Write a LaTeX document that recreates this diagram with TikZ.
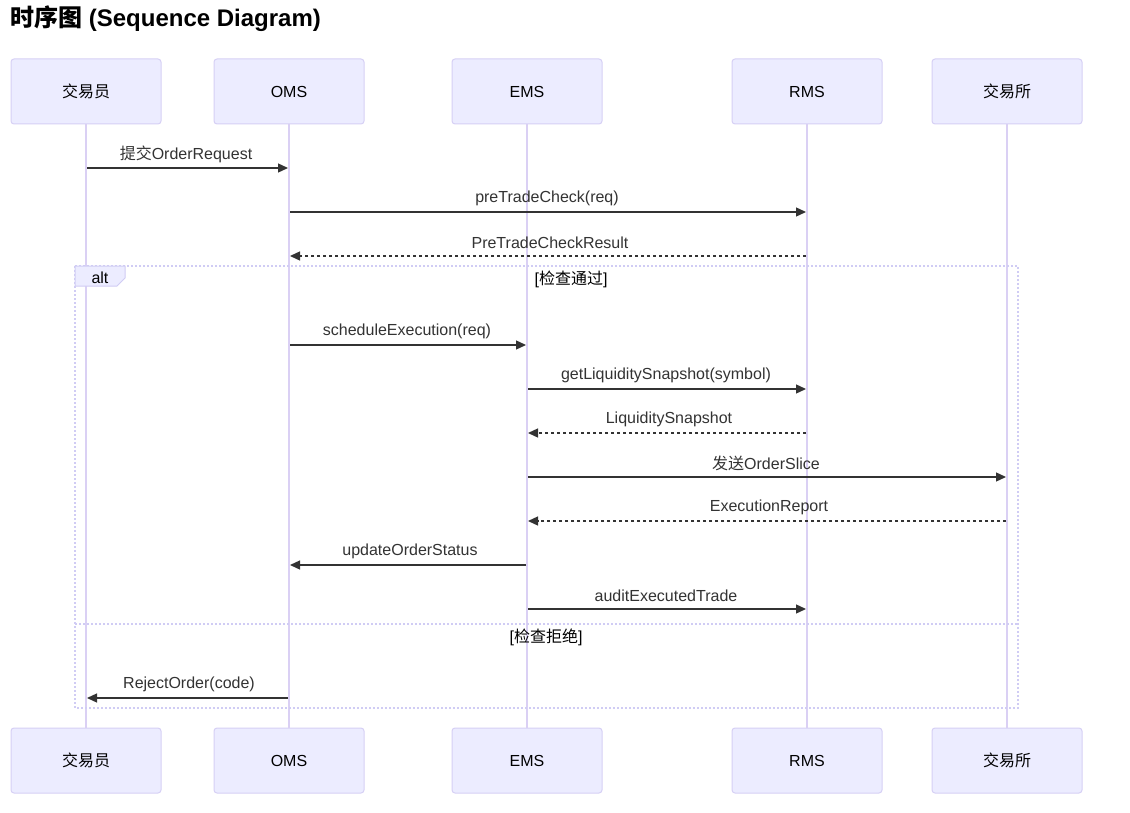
\documentclass[tikz,border=0pt]{standalone}
\usepackage{fontspec}
\setmainfont{Liberation Sans}
\newfontfamily\cjk{Noto Sans CJK SC}
\usetikzlibrary{arrows.meta}
\definecolor{actfill}{RGB}{236,236,255}
\definecolor{actline}{RGB}{214,208,245}
\definecolor{lifeline}{RGB}{218,208,244}
\definecolor{altline}{RGB}{208,204,244}
\definecolor{msg}{RGB}{51,51,51}
\tikzset{
  actor/.style={draw=actline, fill=actfill, line width=1pt, rounded corners=3pt,
    minimum width=150pt, minimum height=65pt, inner sep=0pt,
    font=\fontsize{16}{19}\selectfont, text=black},
  life/.style={draw=lifeline, line width=1.6pt},
  msgline/.style={draw=msg, line width=1.3pt, -{Triangle[length=10pt,width=9pt]},
    shorten >=1pt, shorten <=1pt},
  reply/.style={msgline, dash pattern=on 3pt off 3pt},
  msgtext/.style={font=\fontsize{16}{19}\selectfont, text=msg, inner sep=0pt},
  alttext/.style={font=\fontsize{16}{19}\selectfont, text=black, inner sep=0pt},
  altbox/.style={draw=altline, line width=1.5pt, dash pattern=on 2pt off 2pt},
}
\begin{document}
\begin{tikzpicture}[x=1pt, y=-1pt]
\useasboundingbox (0,0) rectangle (1130,813);
\fill[white] (0,0) rectangle (1130,813);
% title
\node[anchor=base west, inner sep=0pt, font=\fontsize{24}{28}\selectfont\bfseries] (title) at (10,26.5) {{\cjk 时序图} (Sequence Diagram)};
% actors top
\node[actor] (t1) at (86,91.5) {\cjk 交易员};
\node[actor] (o1) at (289,91.5) {OMS};
\node[actor] (e1) at (527,91.5) {EMS};
\node[actor] (r1) at (807,91.5) {RMS};
\node[actor] (x1) at (1007,91.5) {\cjk 交易所};
% actors bottom
\node[actor] (t2) at (86,760.5) {\cjk 交易员};
\node[actor] (o2) at (289,760.5) {OMS};
\node[actor] (e2) at (527,760.5) {EMS};
\node[actor] (r2) at (807,760.5) {RMS};
\node[actor] (x2) at (1007,760.5) {\cjk 交易所};
% lifelines
\draw[life] (t1) -- (t2);
\draw[life] (o1) -- (o2);
\draw[life] (e1) -- (e2);
\draw[life] (r1) -- (r2);
\draw[life] (x1) -- (x2);
% alt box
\draw[altbox] (75,266) rectangle (1018,708);
\draw[altbox] (75,624) -- (1018,624);
\draw[draw=altline, line width=1pt, fill=actfill] (75,266) -- (125,266) -- (125,278) -- (117,286) -- (75,286) -- cycle;
\node[alttext] (altlbl) at (100,278) {alt};
\node[alttext] (cond1) at (571,279) {[{\cjk 检查通过}]};
\node[alttext] (cond2) at (546,637) {[{\cjk 检查拒绝}]};
% message coordinates
\coordinate (m1a) at (86,168);  \coordinate (m1b) at (289,168);
\coordinate (m2a) at (289,212); \coordinate (m2b) at (807,212);
\coordinate (m3a) at (807,256); \coordinate (m3b) at (289,256);
\coordinate (m4a) at (289,345); \coordinate (m4b) at (527,345);
\coordinate (m5a) at (527,389); \coordinate (m5b) at (807,389);
\coordinate (m6a) at (807,433); \coordinate (m6b) at (527,433);
\coordinate (m7a) at (527,477); \coordinate (m7b) at (1007,477);
\coordinate (m8a) at (1007,521); \coordinate (m8b) at (527,521);
\coordinate (m9a) at (527,565); \coordinate (m9b) at (289,565);
\coordinate (m10a) at (527,609); \coordinate (m10b) at (807,609);
\coordinate (m11a) at (289,698); \coordinate (m11b) at (86,698);
% messages
\draw[msgline] (m1a) -- (m1b);
\draw[msgline] (m2a) -- (m2b);
\draw[reply] (m3a) -- (m3b);
\draw[msgline] (m4a) -- (m4b);
\draw[msgline] (m5a) -- (m5b);
\draw[reply] (m6a) -- (m6b);
\draw[msgline] (m7a) -- (m7b);
\draw[reply] (m8a) -- (m8b);
\draw[msgline] (m9a) -- (m9b);
\draw[msgline] (m10a) -- (m10b);
\draw[msgline] (m11a) -- (m11b);
% labels
\node[msgtext] (l1) at (186,154) {{\cjk 提交}OrderRequest};
\node[msgtext] (l2) at (547,198.5) {preTradeCheck(req)};
\node[msgtext] (l3) at (550,242.5) {PreTradeCheckResult};
\node[msgtext] (l4) at (407,331.5) {scheduleExecution(req)};
\node[msgtext] (l5) at (666,375.5) {getLiquiditySnapshot(symbol)};
\node[msgtext] (l6) at (669,419.5) {LiquiditySnapshot};
\node[msgtext] (l7) at (766,463) {{\cjk 发送}OrderSlice};
\node[msgtext] (l8) at (769,507.5) {ExecutionReport};
\node[msgtext] (l9) at (410,551.5) {updateOrderStatus};
\node[msgtext] (l10) at (666,595.5) {auditExecutedTrade};
\node[msgtext] (l11) at (189,684.5) {RejectOrder(code)};
\end{tikzpicture}
\end{document}
